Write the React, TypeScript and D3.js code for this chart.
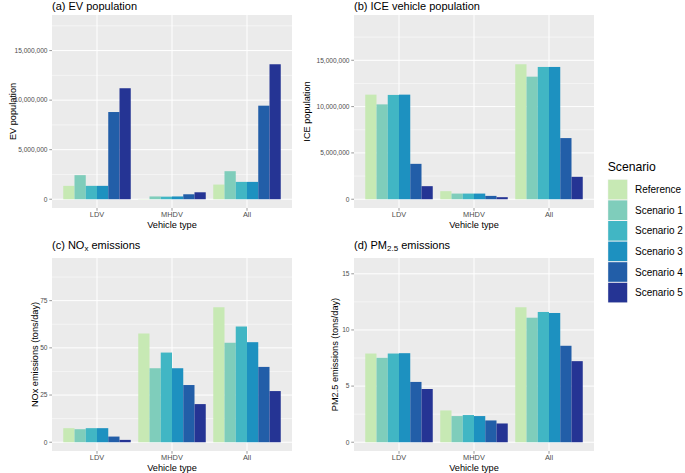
import React from "react";
import * as d3 from "d3";

const categories = ["LDV", "MHDV", "All"];
const scenarios = ["Reference", "Scenario 1", "Scenario 2", "Scenario 3", "Scenario 4", "Scenario 5"];
const colors = ["#c7e9b4", "#7fcdbb", "#41b6c4", "#1d91c0", "#225ea8", "#253494"];

// values per category (LDV, MHDV, All), each with 6 scenarios
const evPopulation = [
  [1350000, 2430000, 1350000, 1350000, 8800000, 11200000],
  [20000, 280000, 260000, 280000, 500000, 700000],
  [1480000, 2830000, 1750000, 1750000, 9440000, 13620000],
];
const icePopulation = [
  [11290000, 10240000, 11260000, 11290000, 3820000, 1410000],
  [870000, 610000, 610000, 610000, 360000, 220000],
  [14570000, 13230000, 14280000, 14280000, 6600000, 2420000],
];
const noxEmissions = [
  [7.45, 6.9, 7.45, 7.45, 3.0, 1.24],
  [57.6, 39.2, 47.5, 39.2, 30.3, 20.2],
  [71.5, 52.7, 61.3, 53.0, 39.9, 27.1],
];
const pm25Emissions = [
  [7.9, 7.52, 7.9, 7.93, 5.37, 4.74],
  [2.83, 2.33, 2.42, 2.33, 1.94, 1.67],
  [12.02, 11.09, 11.6, 11.51, 8.59, 7.22],
];
const popTicks = [0, 5000000, 10000000, 15000000];
const noxTicks = [0, 25, 50, 75];
const pmTicks = [0, 5, 10, 15];

const FONT = "'Liberation Sans', Arial, Helvetica, sans-serif";

type PanelProps = {
  left: number;
  top: number;
  width: number;
  height: number;
  title: React.ReactNode;
  titleY: number;
  yTitle: string;
  yTitleX: number;
  values: number[][];
  ticks: number[];
  fmt: (v: number) => string;
};

function Panel({ left, top, width, height, title, titleY, yTitle, yTitleX, values, ticks, fmt }: PanelProps) {
  const maxV = d3.max(values.flat()) as number;
  const lim = maxV * 1.3;
  const pad = lim * 0.05;
  const y = d3.scaleLinear().domain([-pad, lim + pad]).range([top + height, top]);
  const unit = width / 3.2;
  const x = d3.scalePoint<string>().domain(categories).range([left + 0.6 * unit, left + width - 0.6 * unit]);
  const groupW = 0.9 * unit;
  const inner = d3.scaleBand<string>().domain(scenarios).range([0, groupW]).padding(0);
  const step = ticks[1] - ticks[0];
  const minor: number[] = [];
  for (let i = 0; i < ticks.length; i++) {
    const m = ticks[i] + step / 2;
    if (m < lim + pad) minor.push(m);
  }
  return (
    <g>
      <rect x={left} y={top} width={width} height={height} fill="#EBEBEB" />
      {minor.map((m) => (
        <line key={"mi" + m} x1={left} x2={left + width} y1={y(m)} y2={y(m)} stroke="#fff" strokeWidth={0.5} />
      ))}
      {ticks.map((t) => (
        <line key={"ma" + t} x1={left} x2={left + width} y1={y(t)} y2={y(t)} stroke="#fff" strokeWidth={1} />
      ))}
      {categories.map((c) => (
        <line key={"v" + c} x1={x(c)} x2={x(c)} y1={top} y2={top + height} stroke="#fff" strokeWidth={1} />
      ))}
      {categories.map((c, ci) =>
        scenarios.map((s, si) => {
          const x0 = (x(c) as number) - groupW / 2 + (inner(s) as number);
          const v = values[ci][si];
          return (
            <rect
              key={c + s}
              x={x0}
              y={y(v)}
              width={inner.bandwidth()}
              height={y(0) - y(v)}
              fill={colors[si]}
            />
          );
        })
      )}
      {ticks.map((t) => (
        <g key={"t" + t}>
          <line x1={left - 2.75} x2={left} y1={y(t)} y2={y(t)} stroke="#333" strokeWidth={0.5} />
          <text x={left - 4.5} y={y(t)} dy="0.35em" textAnchor="end" fontSize={6.6} fill="#4D4D4D">
            {fmt(t)}
          </text>
        </g>
      ))}
      {categories.map((c) => (
        <g key={"xt" + c}>
          <line x1={x(c)} x2={x(c)} y1={top + height} y2={top + height + 2.75} stroke="#333" strokeWidth={0.5} />
          <text x={x(c)} y={top + height + 8.8} textAnchor="middle" fontSize={7.4} fill="#4D4D4D">
            {c}
          </text>
        </g>
      ))}
      <text x={left + width / 2} y={top + height + 20} textAnchor="middle" fontSize={9.2} fill="#000">
        Vehicle type
      </text>
      <text
        transform={`translate(${yTitleX},${top + height / 2}) rotate(-90)`}
        dy="0.35em"
        textAnchor="middle"
        fontSize={9.2}
        fill="#000"
      >
        {yTitle}
      </text>
      <text x={left} y={titleY} fontSize={11} fill="#000">
        {title}
      </text>
    </g>
  );
}

export default function App() {
  const W = 685;
  const H = 473;
  const popFmt = d3.format(",");
  const numFmt = (v: number) => String(v);
  const keyX = 607.7;
  const keyY = 179.3;
  const keyH = 20.6;
  const keyW = 20;
  return (
    <svg
      width={W}
      height={H}
      style={{ position: "absolute", left: 0, top: 0, background: "#fff" }}
      fontFamily={FONT}
    >
      <rect x={0} y={0} width={W} height={H} fill="#fff" />
      <Panel
        left={52}
        top={15}
        width={240}
        height={193}
        title="(a) EV population"
        titleY={9.5}
        yTitle="EV population"
        yTitleX={13}
        values={evPopulation}
        ticks={popTicks}
        fmt={popFmt}
      />
      <Panel
        left={354}
        top={15}
        width={240}
        height={193}
        title="(b) ICE vehicle population"
        titleY={9.5}
        yTitle="ICE population"
        yTitleX={306.5}
        values={icePopulation}
        ticks={popTicks}
        fmt={popFmt}
      />
      <Panel
        left={52}
        top={258}
        width={240}
        height={193}
        title={
          <>
            <tspan>(c) NO</tspan>
            <tspan fontSize={8} dy={2.5}>x</tspan>
            <tspan dy={-2.5}> emissions</tspan>
          </>
        }
        titleY={248.5}
        yTitle="NOx emissions (tons/day)"
        yTitleX={34.5}
        values={noxEmissions}
        ticks={noxTicks}
        fmt={numFmt}
      />
      <Panel
        left={354}
        top={258}
        width={240}
        height={193}
        title={
          <>
            <tspan>(d) PM</tspan>
            <tspan fontSize={8} dy={2.5}>2.5</tspan>
            <tspan dy={-2.5}> emissions</tspan>
          </>
        }
        titleY={248.5}
        yTitle="PM2.5 emissions (tons/day)"
        yTitleX={335}
        values={pm25Emissions}
        ticks={pmTicks}
        fmt={numFmt}
      />
      <text x={keyX} y={171} fontSize={12.2} fill="#000">
        Scenario
      </text>
      {scenarios.map((s, i) => (
        <g key={"lg" + s}>
          <rect x={keyX} y={keyY + i * keyH} width={keyW} height={keyH} fill="#F2F2F2" />
          <rect x={keyX + 0.5} y={keyY + i * keyH + 0.5} width={keyW - 1} height={keyH - 1} fill={colors[i]} />
          <text x={635} y={keyY + i * keyH + keyH / 2} dy="0.35em" fontSize={10} fill="#000">
            {s}
          </text>
        </g>
      ))}
    </svg>
  );
}
